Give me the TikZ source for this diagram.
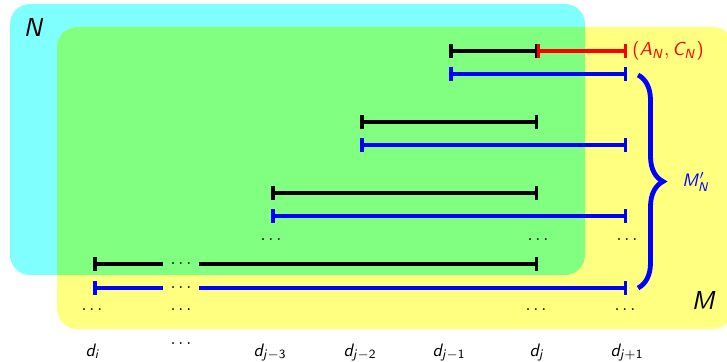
\documentclass[tikz,border=0pt]{standalone}
\usetikzlibrary{arrows.meta,decorations.pathreplacing}
\DeclareMathAlphabet{\mathsfsl}{OT1}{cmss}{m}{sl}
\newcommand{\sv}[1]{\mathsfsl{#1}}
\definecolor{regcyan}{RGB}{128,255,255}
\definecolor{regyellow}{RGB}{255,255,128}
\definecolor{reggreen}{RGB}{128,255,128}
\definecolor{ivred}{RGB}{255,0,0}
\definecolor{ivblue}{RGB}{0,0,255}
\begin{document}
\begin{tikzpicture}[x=1pt,y=-1pt,
  lbl/.style={scale=1.8,inner sep=0pt},
  big/.style={scale=2.6,inner sep=0pt},
  dts/.style={scale=1.8,inner sep=0pt},
  ival/.style={line width=4pt,{Bar[width=14pt,line width=3.5pt]}-{Bar[width=14pt,line width=3.5pt]}},
  lbar/.style={line width=4pt,{Bar[width=14pt,line width=3.5pt]}-},
  rbar/.style={line width=4pt,-{Bar[width=14pt,line width=3.5pt]}},
  region/.style={rounded corners=20pt},
]
\useasboundingbox (0,0) rectangle (727,361);
\begin{scope}
  \clip (0,0) rectangle (727,361);
  \fill[regcyan, region] (10,4) rectangle (585,275);
  \fill[regyellow, region] (57,27) rectangle (733,329);
  \clip[region] (10,4) rectangle (585,275);
  \fill[reggreen, region] (57,27) rectangle (733,329);
\end{scope}

\node[big] (N) at (34,27) {$\sv{N}$};
\node[big] (M) at (704,300) {$\sv{M}$};

% row 1
\coordinate (r1a) at (449,51);
\coordinate (r1b) at (538,51);
\coordinate (r1s) at (536.5,51);
\coordinate (r1c) at (627,51);
\draw[ival,black] (r1a) -- (r1b);
\draw[ival,ivred] (r1s) -- (r1c);
\node[scale=1.88,inner sep=0pt,ivred,anchor=west] (AC) at (632,51) {$\textsf{(}\sv{A}_{\sv{N}}, \sv{C}_{\sv{N}}\textsf{)}$};
% row 2
\coordinate (r2a) at (449,74);
\coordinate (r2b) at (627,74);
\draw[ival,ivblue] (r2a) -- (r2b);
% row 3,4
\coordinate (r3a) at (360,122);
\coordinate (r3b) at (538,122);
\draw[ival,black] (r3a) -- (r3b);
\coordinate (r4a) at (360,145);
\coordinate (r4b) at (627,145);
\draw[ival,ivblue] (r4a) -- (r4b);
% row 5,6
\coordinate (r5a) at (271,193);
\coordinate (r5b) at (538,193);
\draw[ival,black] (r5a) -- (r5b);
\coordinate (r6a) at (271,216);
\coordinate (r6b) at (627,216);
\draw[ival,ivblue] (r6a) -- (r6b);
% dots row
\node[dts] (d5a) at (271,240) {$\ldots$};
\node[dts] (d5b) at (538,240) {$\ldots$};
\node[dts] (d5c) at (627,240) {$\ldots$};
% row 7
\coordinate (r7a) at (93,264);
\coordinate (r7b) at (538,264);
\node[dts] (g7) at (181,264) {$\ldots$};
\coordinate (g7l) at (163,264);
\coordinate (g7r) at (199,264);
\draw[lbar,black] (r7a) -- (g7l);
\draw[rbar,black] (g7r) -- (r7b);
% row 8
\coordinate (r8a) at (93,288);
\coordinate (r8b) at (627,288);
\node[dts] (g8) at (181,288) {$\ldots$};
\coordinate (g8l) at (163,288);
\coordinate (g8r) at (199,288);
\draw[lbar,ivblue] (r8a) -- (g8l);
\draw[rbar,ivblue] (g8r) -- (r8b);
% lower dots
\node[dts] (e1) at (92,310) {$\ldots$};
\node[dts] (e2) at (181,310) {$\ldots$};
\node[dts] (e3) at (536,310) {$\ldots$};
\node[dts] (e4) at (625,310) {$\ldots$};
\node[dts] (e5) at (181,344) {$\ldots$};

% brace
\coordinate (bt) at (638,75);
\coordinate (bb) at (638,288);
\draw[ivblue,line width=4.8pt,decorate,decoration={brace,amplitude=25pt}] (bt) -- (bb);
\node[lbl,ivblue] (MN) at (696,182) {$\sv{M}'_{\sv{N}}$};

% bottom labels
\node[lbl,anchor=base] (L1) at (93,356) {$\sv{d}_{\sv{i}}$};
\node[lbl,anchor=base] (L2) at (270,356) {$\sv{d}_{\sv{j}-\mathsf{3}}$};
\node[lbl,anchor=base] (L3) at (360,356) {$\sv{d}_{\sv{j}-\mathsf{2}}$};
\node[lbl,anchor=base] (L4) at (449,356) {$\sv{d}_{\sv{j}-\mathsf{1}}$};
\node[lbl,anchor=base] (L5) at (537,356) {$\sv{d}_{\sv{j}}$};
\node[lbl,anchor=base] (L6) at (627,356) {$\sv{d}_{\sv{j}+\mathsf{1}}$};
\end{tikzpicture}
\end{document}
